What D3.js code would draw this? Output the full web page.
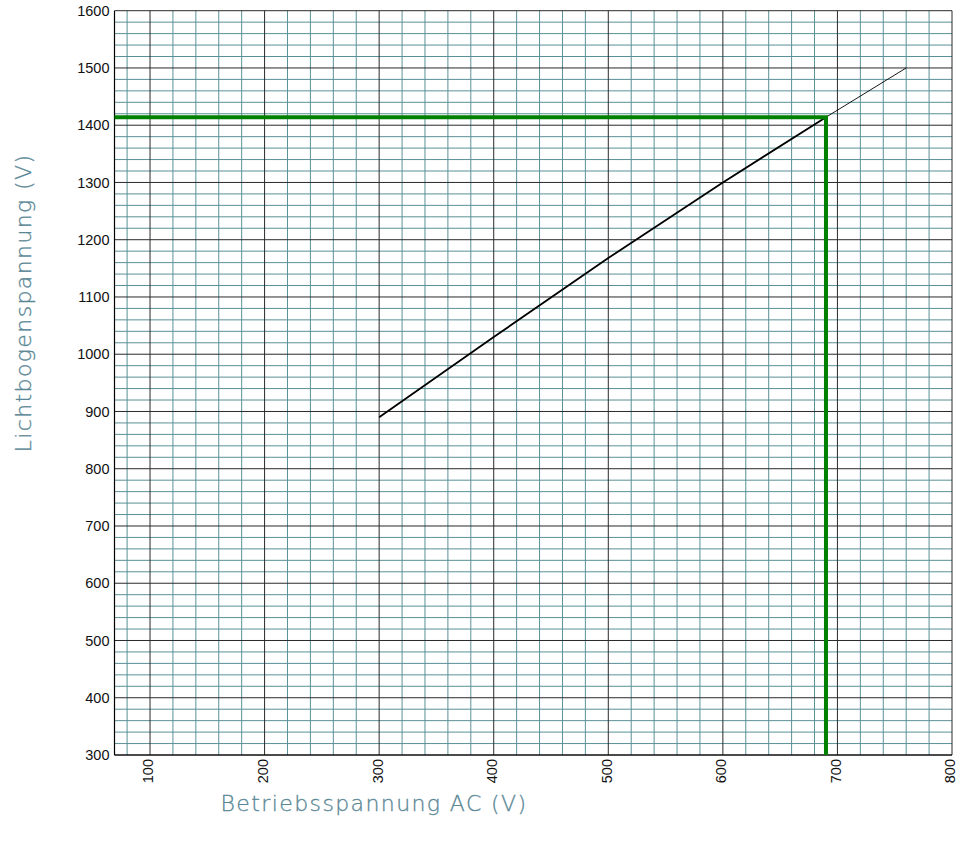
<!DOCTYPE html>
<html>
<head>
<meta charset="utf-8">
<script src="https://cdn.jsdelivr.net/npm/d3@7"></script>
<style>
  body { margin: 0; background: #fff; }
</style>
</head>
<body>
<div id="chart"></div>
<script>
// values
const xTicks = [100, 200, 300, 400, 500, 600, 700, 800]
const yTicks = [300, 400, 500, 600, 700, 800, 900, 1000, 1100, 1200, 1300, 1400, 1500, 1600]
const curveVolt = [300, 400, 500, 600, 690]
const curveArc = [890, 1030, 1168, 1300, 1414]
const extVolt = [690, 760]
const extArc = [1414, 1500]
const markVolt = 690
const markArc = 1414

let margin = {top: 10.7, right: 5, bottom: 92, left: 114.5}
let width = 957 - margin.left - margin.right
let height = 847 - margin.top - margin.bottom

let svg = d3.select("#chart")
    .append("svg")
    .attr("width", 957)
    .attr("height", 847)
    .append("g")
    .attr("transform", "translate(" + margin.left + "," + margin.top + ")");

let xScale = d3.scaleLinear().domain([69, 800]).range([0, width])
let yScale = d3.scaleLinear().domain([300, 1600]).range([height, 0])

// minor grid, every 20 V
let minorX = d3.range(80, 800, 20).filter(d => d % 100 != 0)
let minorY = d3.range(320, 1600, 20).filter(d => d % 100 != 0)

svg.append("g").selectAll("line")
    .data(minorX)
    .enter().append("line")
    .attr("x1", d => xScale(d)).attr("x2", d => xScale(d))
    .attr("y1", 0).attr("y2", height)
    .attr("stroke", "#5a9096")
    .attr("stroke-width", 1);

svg.append("g").selectAll("line")
    .data(minorY)
    .enter().append("line")
    .attr("x1", 0).attr("x2", width)
    .attr("y1", d => yScale(d)).attr("y2", d => yScale(d))
    .attr("stroke", "#5a9096")
    .attr("stroke-width", 1);

// major grid
svg.append("g").selectAll("line")
    .data(xTicks)
    .enter().append("line")
    .attr("x1", d => xScale(d)).attr("x2", d => xScale(d))
    .attr("y1", 0).attr("y2", height)
    .attr("stroke", "#2a2a2a")
    .attr("stroke-width", 1);

svg.append("g").selectAll("line")
    .data(yTicks)
    .enter().append("line")
    .attr("x1", 0).attr("x2", width)
    .attr("y1", d => yScale(d)).attr("y2", d => yScale(d))
    .attr("stroke", "#2a2a2a")
    .attr("stroke-width", 1);

// frame left + bottom
svg.append("line")
    .attr("x1", 0).attr("x2", 0).attr("y1", 0).attr("y2", height)
    .attr("stroke", "#000").attr("stroke-width", 1.2);
svg.append("line")
    .attr("x1", 0).attr("x2", width).attr("y1", height).attr("y2", height)
    .attr("stroke", "#000").attr("stroke-width", 1.2);

// axes
let yAxis = svg.append("g")
    .call(d3.axisLeft(yScale).tickValues(yTicks).tickSize(0).tickPadding(5).tickFormat(d3.format("d")));
yAxis.select(".domain").remove();
yAxis.selectAll("text")
    .style("font-family", "'Liberation Sans', Arial, sans-serif")
    .style("font-size", "14.5px")
    .attr("fill", "#111");

let xAxis = svg.append("g")
    .attr("transform", "translate(0," + height + ")")
    .call(d3.axisBottom(xScale).tickValues(xTicks).tickSize(0).tickFormat(d3.format("d")));
xAxis.select(".domain").remove();
xAxis.selectAll("text")
    .attr("transform", "rotate(-90)")
    .attr("x", -4)
    .attr("y", 0)
    .attr("dy", "0.2em")
    .style("text-anchor", "end")
    .style("font-family", "'Liberation Sans', Arial, sans-serif")
    .style("font-size", "14.5px")
    .attr("fill", "#111");

let lineGen = d3.line()
    .x(d => xScale(d[0]))
    .y(d => yScale(d[1]));

svg.append("path")
    .attr("d", lineGen(curveVolt.map((v, i) => [v, curveArc[i]])))
    .attr("stroke", "#000")
    .attr("stroke-width", 1.8)
    .attr("fill", "none");

svg.append("path")
    .attr("d", lineGen(extVolt.map((v, i) => [v, extArc[i]])))
    .attr("stroke", "#000")
    .attr("stroke-width", 0.9)
    .attr("fill", "none");

// green reading lines
svg.append("path")
    .attr("d", lineGen([[69, markArc], [markVolt, markArc], [markVolt, 300]]))
    .attr("stroke", "#008000")
    .attr("stroke-width", 4)
    .attr("fill", "none");

// titles
svg.append("text")
    .attr("transform", "rotate(-90)")
    .attr("x", -(303 - margin.top))
    .attr("y", 31 - margin.left)
    .attr("text-anchor", "middle")
    .style("font-family", "'DejaVu Sans', sans-serif")
    .style("font-weight", "200")
    .style("font-size", "22px")
    .style("letter-spacing", "1.4px")
    .style("stroke", "#5a8795")
    .style("stroke-width", "0.3px")
    .attr("fill", "#5a8795")
    .text("Lichtbogenspannung (V)");

svg.append("text")
    .attr("x", 374 - margin.left)
    .attr("y", 811 - margin.top)
    .attr("text-anchor", "middle")
    .style("font-family", "'DejaVu Sans', sans-serif")
    .style("font-weight", "200")
    .style("font-size", "22px")
    .style("letter-spacing", "1.4px")
    .style("stroke", "#5a8795")
    .style("stroke-width", "0.3px")
    .attr("fill", "#5a8795")
    .text("Betriebsspannung AC (V)");
</script>
</body>
</html>
